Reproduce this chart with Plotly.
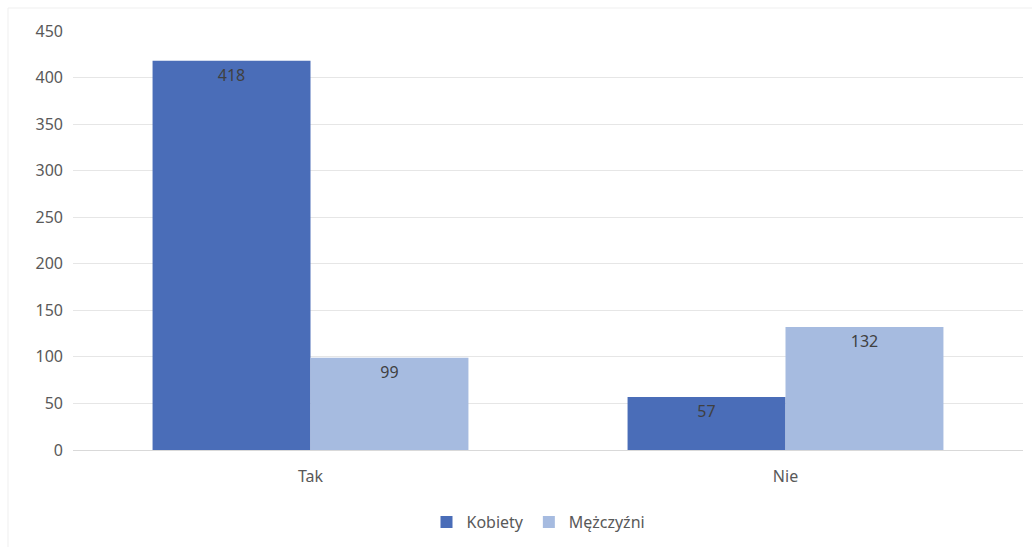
import plotly.graph_objects as go

# Survey answers split by sex
categories = ["Tak", "Nie"]
kobiety = [418, 57]
mezczyzni = [99, 132]
series_names = ["Kobiety", "Mężczyźni"]
y_ticks = [0, 50, 100, 150, 200, 250, 300, 350, 400, 450]

FONT = "Noto Sans"
TEXT_GRAY = "#595959"

fig = go.Figure()
for name, values, color in [
    (series_names[0], kobiety, "#4a6db8"),
    (series_names[1], mezczyzni, "#a6bbe0"),
]:
    fig.add_trace(go.Bar(
        name=name,
        x=categories,
        y=values,
        marker=dict(color=color, line=dict(width=0)),
        text=[str(v) for v in values],
        textposition="inside",
        insidetextanchor="end",
        textfont=dict(family=FONT, size=16, color="#404040"),
        constraintext="none",
        hoverinfo="skip",
    ))

fig.update_layout(
    width=1032,
    height=550,
    margin=dict(l=73, r=9, t=31, b=100),
    paper_bgcolor="white",
    plot_bgcolor="white",
    barmode="group",
    bargap=0.335,
    bargroupgap=0,
    font=dict(family=FONT, size=16, color=TEXT_GRAY),
    showlegend=True,
    legend=dict(
        orientation="h",
        x=0.49, xanchor="center",
        y=-0.172, yanchor="middle",
        font=dict(family=FONT, size=16, color=TEXT_GRAY),
        itemclick=False,
        traceorder="normal",
        itemwidth=30,
    ),
    xaxis=dict(
        showgrid=False,
        showline=True,
        linecolor="#d9d9d9",
        linewidth=1,
        ticks="",
        ticklabelstandoff=12,
        tickfont=dict(family=FONT, size=16, color=TEXT_GRAY),
    ),
    yaxis=dict(
        range=[0, 450],
        tickvals=y_ticks,
        showgrid=True,
        gridcolor="#e6e6e6",
        gridwidth=1,
        zeroline=False,
        showline=False,
        ticks="",
        ticklabelstandoff=9,
        tickfont=dict(family=FONT, size=16, color=TEXT_GRAY),
    ),
)

# faint chart-area frame along the top and left edges
fig.add_shape(type="line", xref="paper", yref="paper",
              x0=-65 / 950, x1=1.01, y0=(450 - 8) / 419, y1=(450 - 8) / 419,
              line=dict(color="#efefef", width=1))
fig.add_shape(type="line", xref="paper", yref="paper",
              x0=-65 / 950, x1=-65 / 950, y0=(450 - 547) / 419, y1=(450 - 8) / 419,
              line=dict(color="#efefef", width=1))

fig.write_html("out.html")
